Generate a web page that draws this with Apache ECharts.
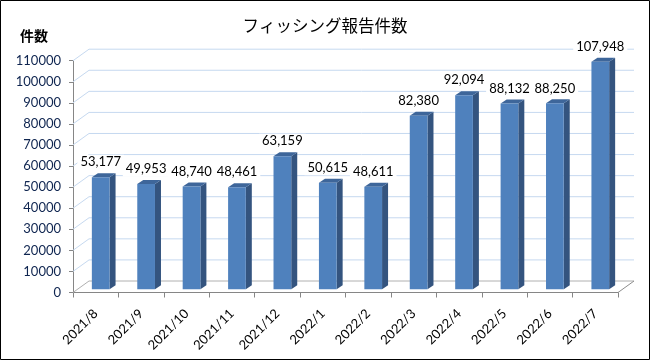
<!DOCTYPE html>
<html>
<head>
<meta charset="utf-8">
<script src="https://cdn.jsdelivr.net/npm/echarts@6/dist/echarts.min.js"></script>
<style>
html,body{margin:0;padding:0;background:#fff;}
#c{width:650px;height:360px;}
</style>
</head>
<body>
<div id="c"></div>
<script>
const categories = ['2021/8','2021/9','2021/10','2021/11','2021/12','2022/1','2022/2','2022/3','2022/4','2022/5','2022/6','2022/7'];
const reports = [53177, 49953, 48740, 48461, 63159, 50615, 48611, 82380, 92094, 88132, 88250, 107948];
const yTicks = [0, 10000, 20000, 30000, 40000, 50000, 60000, 70000, 80000, 90000, 100000, 110000];
const titleText = 'フィッシング報告件数';
const yName = '件数';

const DX = 16, DY = -11.5;     // back wall depth offset
const BDX = 6, BDY = -4;       // bar depth
const NUMFONT = 'Lato, "Noto Sans", sans-serif';

function fmt(n){ return String(n).replace(/\B(?=(\d{3})+(?!\d))/g, ','); }

const chart = echarts.init(document.getElementById('c'), null, {renderer:'canvas'});
chart.setOption({
  animation: false,
  backgroundColor: '#fff',
  title: {
    text: titleText, left: 'center', top: 12,
    textStyle: {fontFamily: '"Noto Sans CJK JP", sans-serif', fontWeight: 'normal', fontSize: 16.5, color: '#000'}
  },
  graphic: [
    {type:'rect', shape:{x:0.5, y:0.5, width:649, height:359}, style:{fill:'none', stroke:'#000', lineWidth:1}, z:100},
    {type:'text', left: 20, top: 29, style:{text: yName, font: 'bold 14px "Noto Sans CJK JP", sans-serif', fill:'#000'}}
  ],
  grid: {left: 73, right: 32, top: 60.7, bottom: 67.5, containLabel: false},
  xAxis: {
    type: 'category', data: categories, boundaryGap: true,
    axisLine: {show: true, lineStyle: {color: '#868686', width: 1}},
    axisTick: {show: true, length: 5, lineStyle: {color: '#868686'}},
    axisLabel: {rotate: 45, margin: 19, fontFamily: NUMFONT, fontSize: 13, color: '#000'},
    splitLine: {show: false}
  },
  yAxis: {
    type: 'value', min: 0, max: 110000, interval: 10000,
    axisLine: {show: true, lineStyle: {color: '#868686', width: 1}},
    axisTick: {show: true, length: 4, lineStyle: {color: '#868686'}},
    axisLabel: {margin: 12, fontFamily: NUMFONT, fontSize: 13, color: '#0f2550', formatter: v => String(v)},
    splitLine: {show: false}
  },
  series: [
    {
      type: 'custom', z: 1, silent: true,
      data: yTicks.map(v => [0, v]),
      renderItem: function(params, api){
        const cs = params.coordSys;
        const v = api.value(1);
        const y = api.coord([0, v])[1];
        const xL = cs.x, xR = cs.x + cs.width;
        const isFloor = v === 0;
        const children = [{
          type: 'polyline',
          shape: {points: [[xL, y], [xL + DX, y + DY], [xR + DX, y + DY]]},
          style: {stroke: isFloor ? '#b0b0b0' : '#c6d9f0', lineWidth: 1, fill: 'none'}
        }];
        if (isFloor) {
          children.push({
            type: 'line',
            shape: {x1: xR, y1: y, x2: xR + DX, y2: y + DY},
            style: {stroke: '#8c8c8c', lineWidth: 1}
          });
        }
        return {type: 'group', children: children};
      }
    },
    {
      type: 'custom', z: 5, silent: true,
      data: reports.map((v, i) => [i, v]),
      renderItem: function(params, api){
        const i = api.value(0), v = api.value(1);
        const base = api.coord([i, 0]);
        const top = api.coord([i, v]);
        const bw = api.size([1, 0])[0];
        const fw = bw * 0.39;
        const cx = base[0] + 5;
        const x0 = cx - fw / 2, x1 = cx + fw / 2;
        const yb = base[1] - 3.2, yt = top[1] - 3.2;
        return {
          type: 'group',
          children: [
            {type:'polygon', shape:{points:[[x1,yt],[x1+BDX,yt+BDY],[x1+BDX,yb+BDY],[x1,yb]]}, style:{fill:'#34547f'}},
            {type:'polygon', shape:{points:[[x0,yt],[x0+BDX,yt+BDY],[x1+BDX,yt+BDY],[x1,yt]]}, style:{fill:'#3e669a'}},
            {type:'rect', shape:{x:x0, y:yt, width:fw, height:yb-yt}, style:{fill:'#4f81bd'}},
            {type:'text', x: cx, y: yt - 15, style:{
              text: fmt(v), align:'center', verticalAlign:'middle',
              font: '13px ' + NUMFONT, fill:'#000',
              backgroundColor:'#fff', padding:[1,3]
            }}
          ]
        };
      }
    }
  ]
});
</script>
</body>
</html>
